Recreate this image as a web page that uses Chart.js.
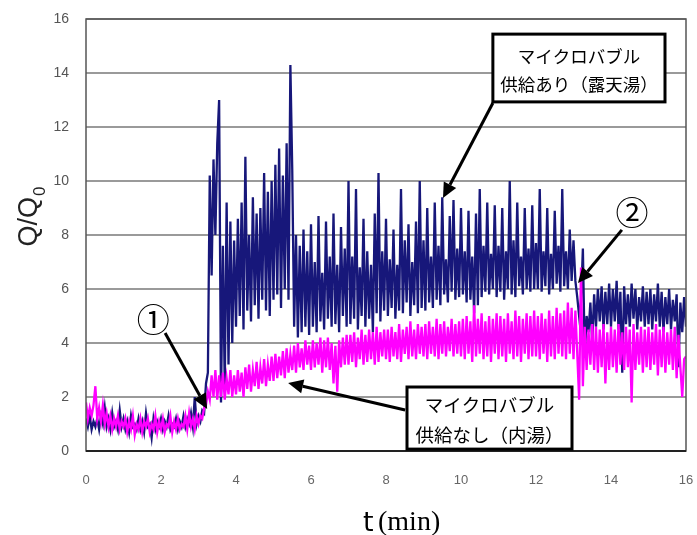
<!DOCTYPE html>
<html>
<head>
<meta charset="utf-8">
<script src="https://cdn.jsdelivr.net/npm/chart.js@4/dist/chart.umd.min.js"></script>
<style>
  html, body { margin: 0; padding: 0; background: #fff; }
</style>
</head>
<body>
<canvas id="c" width="697" height="535"></canvas>
<script>
// sampling step of both records (min)
const tStep = 0.05;

// マイクロバブル供給あり(露天湯) : Q/Q0, one row per minute
const withBubbles = [
  1.2,0.9,1.3,0.8,1.1,0.9,1.2,0.8,1.3,1.0,1.6,0.9,1.2,0.8,1.4,0.9,1.1,0.8,1.5,0.9,
  1.2,0.8,1.1,0.7,1.3,0.9,1.0,0.8,1.2,0.8,1.1,0.7,1.4,0.9,1.0,0.5,1.2,0.8,1.1,0.9,
  1.2,0.8,1.1,0.9,1.3,0.8,1.0,0.9,1.2,0.8,1.1,0.9,1.3,0.9,1.2,1.0,1.4,0.9,2.0,1.0,
  1.3,1.1,1.5,1.4,2.5,2.9,10.2,6.5,10.8,8.0,11.4,13.0,1.8,7.6,2.4,9.2,3.2,8.5,4.0,7.8,
  4.6,8.6,5.0,9.2,4.5,10.9,5.2,8.0,4.8,9.4,5.4,8.8,4.9,9.0,5.6,10.3,5.2,9.6,5.0,10.0,
  5.6,10.6,5.8,11.2,5.3,10.2,6.0,11.4,5.6,14.3,10.4,4.6,8.0,4.2,7.6,4.4,8.2,4.6,7.4,4.3,
  8.4,4.6,7.0,4.4,8.7,4.8,6.6,4.5,8.5,4.9,7.2,4.6,8.8,4.7,6.9,4.4,8.3,5.0,7.5,4.6,
  10.0,4.7,7.2,4.9,9.7,4.5,6.8,5.0,8.6,4.6,7.4,4.9,6.9,4.4,8.8,5.1,10.3,4.8,7.4,5.2,
  8.6,5.0,7.1,5.3,8.2,4.9,6.9,5.2,9.7,5.1,7.8,5.5,8.4,5.0,7.0,5.4,8.5,5.1,10.0,5.3,
  7.8,5.2,9.0,5.5,7.2,5.3,9.2,5.6,7.6,5.4,9.4,5.8,7.1,5.5,8.7,5.9,9.3,5.6,7.5,5.7,
  9.0,5.8,7.4,5.5,8.9,5.6,7.2,5.1,8.8,5.4,9.7,5.7,7.6,5.9,9.2,5.8,7.3,6.0,9.1,5.7,
  7.6,5.9,9.0,5.6,7.4,6.0,10.0,5.8,7.8,5.7,9.2,6.1,7.2,5.8,9.0,6.0,7.5,5.9,9.1,6.0,
  7.7,6.0,9.7,5.9,7.4,6.1,9.0,5.8,7.3,6.0,8.9,6.2,7.6,5.9,9.7,6.1,7.4,6.0,8.2,6.3,
  7.8,6.3,5.7,5.0,5.5,7.5,3.5,5.0,4.4,5.5,4.0,5.8,4.6,6.0,4.8,6.1,4.5,5.9,4.7,6.2,
  4.6,6.0,4.8,6.3,4.5,5.9,2.9,6.1,4.7,5.8,4.6,6.2,4.9,6.0,4.5,5.7,4.8,6.1,4.6,5.9,
  4.7,6.0,4.5,5.8,4.8,6.2,4.6,5.9,4.4,5.7,4.7,6.0,4.5,5.6,4.8,5.8,3.1,5.5,4.4,5.7,
  4.6
];

// マイクロバブル供給なし(内湯) : Q/Q0, one row per minute
const withoutBubbles = [
  1.8,1.2,1.6,1.3,1.7,2.4,1.2,1.6,1.1,1.7,1.0,1.4,0.9,1.3,0.8,1.2,0.9,1.3,0.8,1.1,
  0.9,1.2,0.7,1.1,0.8,1.3,0.6,1.0,0.8,1.2,0.7,1.1,0.9,1.2,0.7,1.0,0.8,1.3,0.7,1.1,
  0.8,1.2,0.7,1.0,0.9,1.3,0.7,1.1,0.8,1.2,0.8,1.0,0.9,1.3,0.8,1.4,0.9,1.2,0.8,1.3,
  1.0,1.3,1.2,1.6,1.7,2.2,1.9,2.8,2.0,3.0,1.9,2.8,2.0,2.9,1.9,2.7,2.1,3.0,2.0,2.8,
  2.1,3.0,2.2,2.9,2.0,3.1,2.3,3.2,2.2,3.0,2.4,3.3,2.3,3.1,2.5,3.4,2.4,3.2,2.6,3.5,
  2.6,3.6,2.7,3.5,2.8,3.7,2.7,3.8,2.9,3.6,3.0,3.9,2.9,4.0,3.1,3.8,3.0,4.1,3.2,3.9,
  3.0,4.1,3.1,4.0,3.2,4.2,2.9,4.1,3.1,4.2,3.0,4.0,2.5,3.9,2.2,4.1,3.1,4.2,3.2,4.3,
  3.2,4.3,3.3,4.4,3.1,4.2,3.4,4.5,3.2,4.3,3.3,4.5,3.4,4.4,3.2,4.6,3.3,4.4,3.5,4.5,
  3.4,4.5,3.3,4.6,3.5,4.4,3.4,4.7,3.3,4.5,3.6,4.6,3.4,4.8,3.5,4.5,3.4,4.7,3.6,4.6,
  3.5,4.7,3.4,4.8,3.6,4.6,3.5,4.9,3.4,4.7,3.6,4.8,3.5,4.6,3.7,4.9,3.5,4.7,3.6,4.8,
  3.5,4.9,3.4,5.0,3.6,4.8,3.3,5.4,3.5,4.9,3.6,5.1,3.4,4.8,3.5,5.0,3.3,4.9,3.6,5.1,
  3.4,5.0,3.5,4.9,3.3,5.1,3.6,4.8,3.4,5.2,3.5,5.0,3.3,4.9,3.6,5.1,3.4,5.0,3.5,5.2,
  3.5,5.0,3.4,5.1,3.6,4.9,3.3,5.2,3.5,5.0,3.4,5.3,3.6,5.1,3.5,5.2,3.4,5.5,3.6,5.3,
  3.4,5.2,3.6,1.9,6.8,2.4,4.6,3.0,4.5,3.2,4.7,3.0,4.6,2.9,4.5,3.1,4.7,2.5,4.4,3.0,
  4.6,3.1,4.5,2.9,4.7,3.2,4.4,3.0,4.6,3.1,4.5,1.8,4.7,3.0,4.4,3.2,4.6,2.9,4.5,3.1,
  4.6,3.0,4.4,3.2,4.7,2.8,4.5,3.1,4.6,2.9,4.4,3.2,4.5,3.0,4.6,2.7,4.3,3.1,2.0,3.4,
  3.5
];

const xTicks = [0, 2, 4, 6, 8, 10, 12, 14, 16];
const yTicks = [0, 2, 4, 6, 8, 10, 12, 14, 16];

// callouts, placed in data units (t, Q/Q0)
const noteBoxes = [
  { lines: ['マイクロバブル', '供給あり（露天湯）'], t0: 10.85, t1: 15.44, q0: 15.44, q1: 12.93, size: 17.5 },
  { lines: ['マイクロバブル', '供給なし（内湯）'], t0: 8.56, t1: 12.96, q0: 2.37, q1: 0.07, size: 18.5 }
];
const noteArrows = [
  { from: [10.85, 12.89], to: [9.52, 9.37] },
  { from: [8.51, 1.52], to: [5.39, 2.52] },
  { from: [2.11, 4.37], to: [3.23, 1.56] },
  { from: [14.29, 8.19], to: [13.12, 6.22] }
];
const marks = [
  { text: '①', t: 1.79, q: 4.88 },
  { text: '②', t: 14.56, q: 8.85 }
];

const toPoints = (vals) => vals.map((v, i) => ({ x: +(i * tStep).toFixed(2), y: v }));

const drawArrow = (ctx, x1, y1, x2, y2) => {
  const ang = Math.atan2(y2 - y1, x2 - x1);
  const head = 15, half = 7;
  const bx = x2 - head * Math.cos(ang), by = y2 - head * Math.sin(ang);
  ctx.beginPath();
  ctx.moveTo(x1, y1);
  ctx.lineTo(bx, by);
  ctx.stroke();
  ctx.beginPath();
  ctx.moveTo(x2, y2);
  ctx.lineTo(bx + half * Math.sin(ang), by - half * Math.cos(ang));
  ctx.lineTo(bx - half * Math.sin(ang), by + half * Math.cos(ang));
  ctx.closePath();
  ctx.fill();
};

const decor = {
  id: 'decor',
  afterDatasetsDraw(chart) {
    const { ctx, chartArea: a, scales: { x, y } } = chart;
    ctx.save();
    // plot frame
    ctx.strokeStyle = '#555';
    ctx.lineWidth = 1.5;
    ctx.strokeRect(a.left, a.top, a.right - a.left, a.bottom - a.top);
    ctx.strokeStyle = '#222';
    ctx.lineWidth = 2;
    ctx.beginPath();
    ctx.moveTo(a.left, a.bottom);
    ctx.lineTo(a.right, a.bottom);
    ctx.stroke();

    // arrows
    ctx.strokeStyle = '#000';
    ctx.fillStyle = '#000';
    ctx.lineWidth = 3;
    noteArrows.forEach(n => {
      drawArrow(ctx, x.getPixelForValue(n.from[0]), y.getPixelForValue(n.from[1]),
        x.getPixelForValue(n.to[0]), y.getPixelForValue(n.to[1]));
    });

    // boxes
    noteBoxes.forEach(b => {
      const left = x.getPixelForValue(b.t0), right = x.getPixelForValue(b.t1);
      const top = y.getPixelForValue(b.q0), bottom = y.getPixelForValue(b.q1);
      ctx.fillStyle = '#fff';
      ctx.fillRect(left, top, right - left, bottom - top);
      ctx.lineWidth = 3;
      ctx.strokeStyle = '#000';
      ctx.strokeRect(left, top, right - left, bottom - top);
      ctx.fillStyle = '#000';
      ctx.font = b.size + 'px "Noto Sans CJK JP"';
      ctx.textAlign = 'center';
      ctx.textBaseline = 'middle';
      const cx = (left + right) / 2, cy = (top + bottom) / 2 + 2;
      const gap = b.size * 1.6;
      ctx.fillText(b.lines[0], cx, cy - gap / 2);
      ctx.fillText(b.lines[1], cx, cy + gap / 2);
    });

    // circled markers
    ctx.font = '33px "Noto Sans CJK JP"';
    ctx.textAlign = 'center';
    ctx.textBaseline = 'middle';
    marks.forEach(m => {
      ctx.fillText(m.text, x.getPixelForValue(m.t), y.getPixelForValue(m.q));
    });
    ctx.restore();
  },
  afterDraw(chart) {
    const { ctx } = chart;
    ctx.save();
    ctx.fillStyle = '#222';
    // y title  Q/Q0
    ctx.translate(37, 217);
    ctx.rotate(-Math.PI / 2);
    ctx.font = '27px "Liberation Sans"';
    const w1 = ctx.measureText('Q/Q').width;
    ctx.font = '17px "Liberation Sans"';
    const w2 = ctx.measureText('0').width;
    const sx = -(w1 + w2) / 2;
    ctx.textAlign = 'left';
    ctx.textBaseline = 'alphabetic';
    ctx.font = '27px "Liberation Sans"';
    ctx.fillText('Q/Q', sx, 0);
    ctx.font = '17px "Liberation Sans"';
    ctx.fillText('0', sx + w1 + 1, 8);
    ctx.restore();

    // x title  t (min)
    ctx.save();
    ctx.fillStyle = '#000';
    ctx.textBaseline = 'alphabetic';
    ctx.textAlign = 'left';
    ctx.font = '27px "DejaVu Sans"';
    ctx.fillText('t', 363, 531);
    ctx.font = '28px "Liberation Serif"';
    ctx.fillText('(min)', 378, 530);
    ctx.restore();
  }
};

new Chart(document.getElementById('c'), {
  type: 'line',
  data: {
    datasets: [
      {
        label: 'マイクロバブル供給なし(内湯)',
        data: toPoints(withoutBubbles),
        borderColor: '#ff00ff',
        borderWidth: 2.3,
        pointRadius: 0,
        tension: 0
      },
      {
        label: 'マイクロバブル供給あり(露天湯)',
        data: toPoints(withBubbles),
        borderColor: '#17177a',
        borderWidth: 2.3,
        pointRadius: 0,
        tension: 0
      }
    ]
  },
  options: {
    responsive: false,
    animation: false,
    parsing: false,
    layout: { padding: { top: 19, right: 11, left: 0, bottom: 0 } },
    plugins: {
      legend: { display: false },
      tooltip: { enabled: false }
    },
    scales: {
      x: {
        type: 'linear',
        min: 0,
        max: 16,
        afterBuildTicks: (s) => { s.ticks = xTicks.map(v => ({ value: v })); },
        afterFit: (s) => { s.height = 84; s.paddingLeft = 0; s.paddingRight = 0; },
        grid: { display: false, drawTicks: false },
        border: { display: false },
        ticks: { color: '#666', padding: 22, maxRotation: 0, font: { family: 'Liberation Sans', size: 13 } }
      },
      y: {
        type: 'linear',
        min: 0,
        max: 16,
        afterBuildTicks: (s) => { s.ticks = yTicks.map(v => ({ value: v })); },
        afterFit: (s) => { s.width = 86; s.paddingTop = 0; s.paddingBottom = 0; },
        grid: { color: '#9a9a9a', lineWidth: 2, drawTicks: false },
        border: { display: false },
        ticks: { color: '#555', padding: 17, font: { family: 'Liberation Sans', size: 14 } }
      }
    }
  },
  plugins: [decor]
});
</script>
</body>
</html>
